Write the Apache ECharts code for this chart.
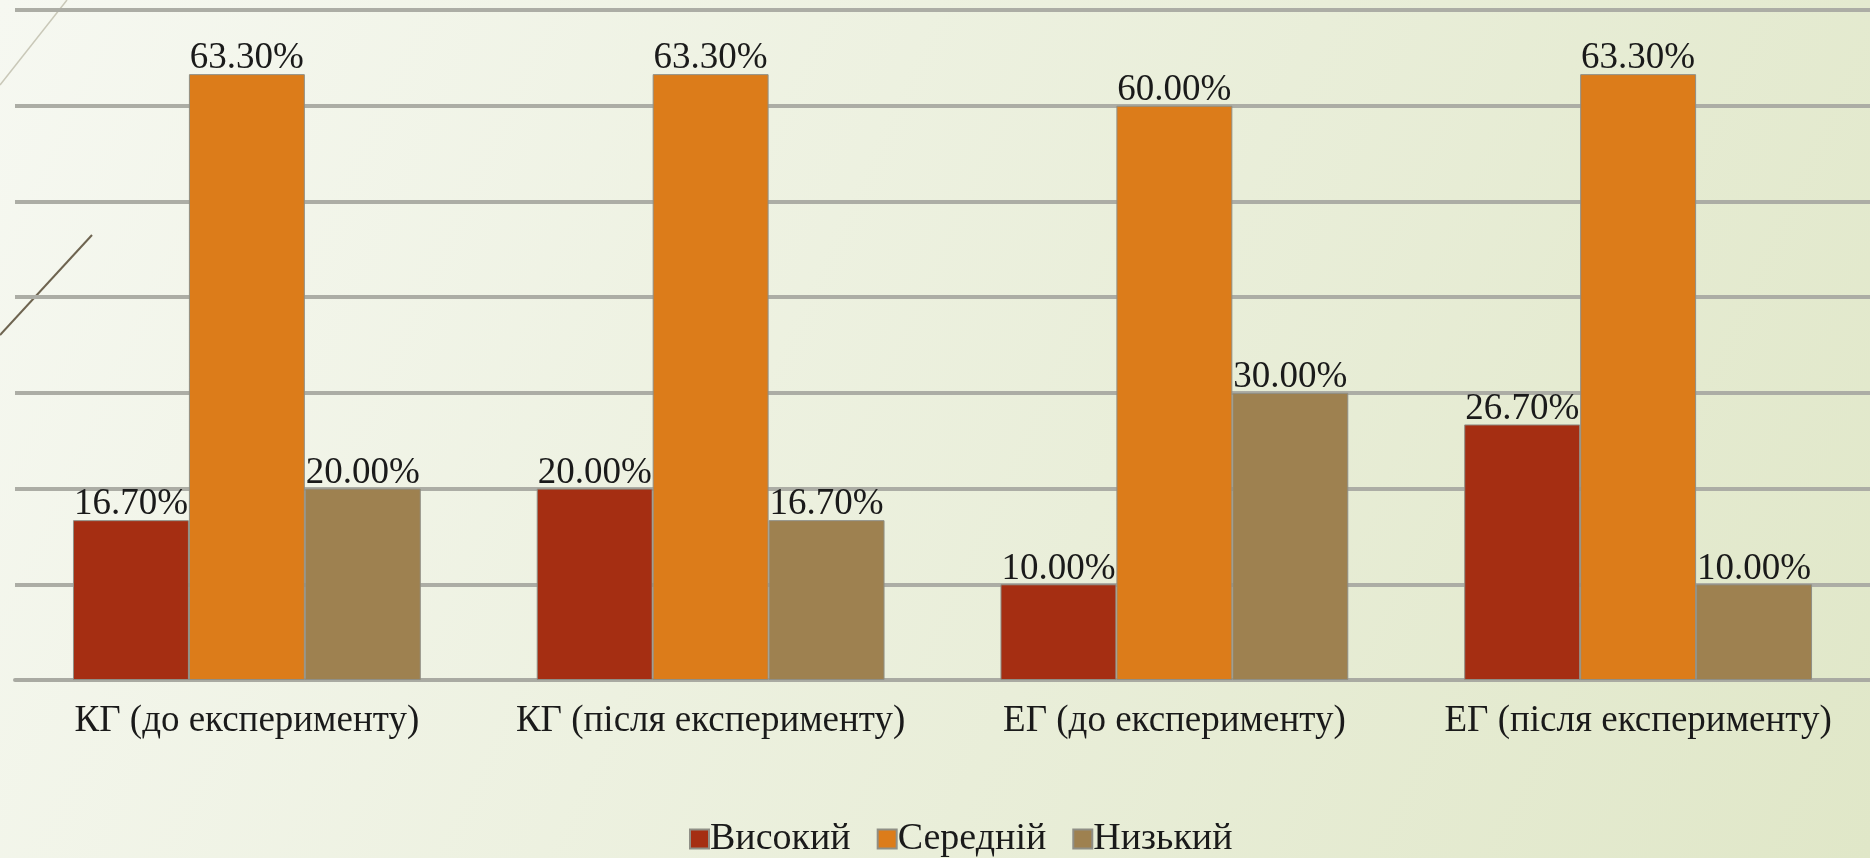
<!DOCTYPE html>
<html>
<head>
<meta charset="utf-8">
<script src="https://cdn.jsdelivr.net/npm/echarts@6/dist/echarts.min.js"></script>
<style>
  html, body { margin: 0; padding: 0; }
  #chart { width: 1870px; height: 858px; }
</style>
</head>
<body>
<div id="chart"></div>
<script>
    // дані з діаграми
    const categories = ['КГ (до експерименту)', 'КГ (після експерименту)', 'ЕГ (до експерименту)', 'ЕГ (після експерименту)'];
    const highValues = [16.7, 20.0, 10.0, 26.7];
    const middleValues = [63.3, 63.3, 60.0, 63.3];
    const lowValues = [20.0, 16.7, 30.0, 10.0];
    const seriesNames = ['Високий', 'Середній', 'Низький'];
    const colors = ['#A52E12', '#DC7C1A', '#9E8150'];

    const chart = echarts.init(document.getElementById('chart'));
    const font = '"Liberation Serif", "DejaVu Serif", serif';

    const makeSeries = (name, data, color) => ({
        name: name,
        type: 'bar',
        data: data,
        barGap: '0%',
        barCategoryGap: '25%',
        itemStyle: { color: color, borderColor: '#8f8f86', borderWidth: 1 },
        label: {
            show: true,
            position: 'top',
            distance: -3,
            formatter: p => p.value.toFixed(2) + '%',
            fontFamily: font,
            fontSize: 37,
            color: '#1a1a1a'
        }
    });

    const option = {
        backgroundColor: new echarts.graphic.LinearGradient(0, 0, 1, 1, [
            { offset: 0, color: '#F6F8F1' },
            { offset: 1, color: '#E0E7C8' }
        ]),
        animation: false,
        color: colors,
        grid: { left: 15, top: 10, width: 1861, height: 670 },
        legend: {
            left: 684,
            top: 815,
            itemWidth: 19,
            itemHeight: 19,
            itemGap: 26,
            icon: 'rect',
            textStyle: { fontFamily: font, fontSize: 38, color: '#1a1a1a', padding: [0, 0, 0, -4] },
            data: seriesNames
        },
        xAxis: {
            type: 'category',
            data: categories,
            axisTick: { show: false },
            axisLine: { lineStyle: { color: '#a9aaa2', width: 4 } },
            axisLabel: { fontFamily: font, fontSize: 37, color: '#1a1a1a', margin: 23, interval: 0 }
        },
        yAxis: {
            type: 'value',
            min: 0,
            max: 70,
            interval: 10,
            axisLabel: { show: false },
            axisLine: { show: false },
            axisTick: { show: false },
            splitLine: { lineStyle: { color: '#acada5', width: 4 } }
        },
        graphic: [
            { type: 'line', shape: { x1: 0, y1: 85, x2: 67, y2: 0 }, style: { stroke: '#c9c8b8', lineWidth: 1.5 }, silent: true },
            { type: 'line', shape: { x1: 92, y1: 235, x2: 0, y2: 335 }, style: { stroke: '#6e6450', lineWidth: 2 }, silent: true }
        ],
        series: [
            makeSeries(seriesNames[0], highValues, colors[0]),
            makeSeries(seriesNames[1], middleValues, colors[1]),
            makeSeries(seriesNames[2], lowValues, colors[2])
        ]
    };
    chart.setOption(option);
</script>
</body>
</html>
